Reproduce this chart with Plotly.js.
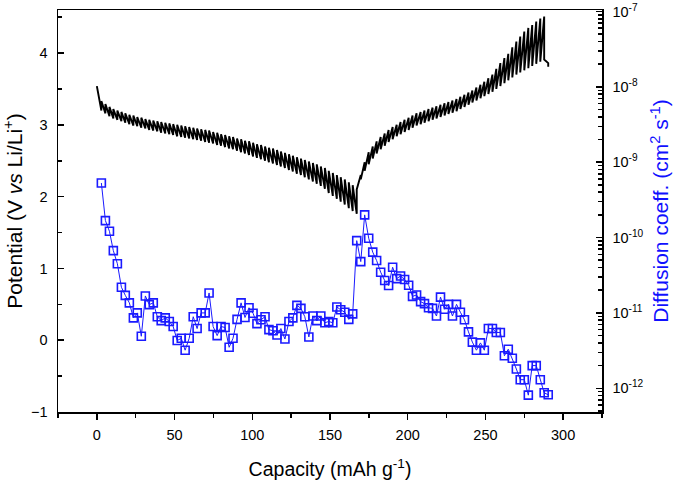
<!DOCTYPE html>
<html>
<head>
<meta charset="utf-8">
<script src="https://cdn.plot.ly/plotly-3.0.1.min.js"></script>
<style>html,body{margin:0;padding:0;background:#fff;}#chart{width:675px;height:480px;}</style>
</head>
<body>
<div id="chart"></div>
<script>
// ---- GITT potential curve: pulse boundaries (capacity), voltage at end of each pulse, relaxed voltage ----
const gittCap = [0,
  2.9, 5.5, 8.1, 10.6, 13.2, 15.8, 18.3, 20.9, 23.5, 26.0,
  28.6, 31.2, 33.7, 36.3, 38.9, 41.4, 44.0, 46.6, 49.1, 51.7,
  54.3, 56.8, 59.4, 62.0, 64.5, 67.1, 69.7, 72.2, 74.8, 77.4,
  79.9, 82.5, 85.1, 87.6, 90.2, 92.8, 95.3, 97.9, 100.5, 103.0,
  105.6, 108.2, 110.7, 113.3, 115.9, 118.4, 121.0, 123.6, 126.1, 128.7,
  131.3, 133.8, 136.4, 139.0, 141.5, 144.1, 146.7, 149.2, 151.8, 154.4,
  156.9, 159.5, 162.1, 164.6, 167.2,
  169.8, 172.3, 174.9, 177.5, 180.0, 182.6, 185.2, 187.7, 190.3, 192.9,
  195.4, 198.0, 200.6, 203.1, 205.7, 208.3, 210.8, 213.4, 216.0, 218.5,
  221.1, 223.7, 226.2, 228.8, 231.4, 233.9, 236.5, 239.1, 241.6, 244.2,
  246.8, 249.3, 251.9, 254.5, 257.0, 259.6, 262.2, 264.7, 267.3, 269.9,
  272.4, 275.0, 277.6, 280.1, 282.7, 285.3, 287.8, 290.4];
const gittPulseV = [3.54,
  3.20, 3.16, 3.12, 3.09, 3.07, 3.05, 3.03, 3.01, 2.99, 2.98,
  2.96, 2.95, 2.93, 2.92, 2.91, 2.89, 2.88, 2.87, 2.86, 2.84,
  2.83, 2.82, 2.81, 2.80, 2.79, 2.78, 2.76, 2.75, 2.74, 2.72,
  2.71, 2.69, 2.67, 2.66, 2.64, 2.62, 2.60, 2.58, 2.56, 2.54,
  2.52, 2.50, 2.48, 2.46, 2.44, 2.42, 2.40, 2.37, 2.35, 2.32,
  2.30, 2.27, 2.24, 2.21, 2.18, 2.15, 2.11, 2.05, 2.01, 1.97,
  1.93, 1.89, 1.84, 1.80, 1.76,
  2.30, 2.48, 2.62, 2.70, 2.77, 2.83, 2.88, 2.93, 2.97, 3.00,
  3.04, 3.07, 3.10, 3.13, 3.16, 3.18, 3.20, 3.22, 3.24, 3.26,
  3.28, 3.30, 3.32, 3.34, 3.36, 3.39, 3.42, 3.45, 3.48, 3.52,
  3.56, 3.60, 3.65, 3.70, 3.78, 3.86, 3.93, 3.99, 4.08, 4.16,
  4.23, 4.30, 4.35, 4.39, 4.44, 4.48, 4.51, 3.86];
const gittRestV = [3.54,
  3.33, 3.29, 3.25, 3.22, 3.20, 3.18, 3.16, 3.14, 3.13, 3.11,
  3.10, 3.08, 3.07, 3.06, 3.05, 3.04, 3.03, 3.02, 3.01, 3.00,
  2.99, 2.98, 2.97, 2.96, 2.95, 2.94, 2.93, 2.92, 2.90, 2.89,
  2.87, 2.86, 2.84, 2.83, 2.81, 2.80, 2.78, 2.77, 2.75, 2.73,
  2.72, 2.70, 2.68, 2.67, 2.65, 2.63, 2.61, 2.59, 2.57, 2.55,
  2.53, 2.51, 2.49, 2.47, 2.45, 2.42, 2.40, 2.36, 2.33, 2.30,
  2.27, 2.24, 2.20, 2.16, 2.10,
  2.24, 2.36, 2.45, 2.53, 2.60, 2.66, 2.71, 2.76, 2.80, 2.84,
  2.87, 2.90, 2.93, 2.96, 2.99, 3.01, 3.03, 3.05, 3.07, 3.09,
  3.11, 3.13, 3.15, 3.17, 3.19, 3.22, 3.25, 3.28, 3.31, 3.34,
  3.37, 3.40, 3.43, 3.46, 3.50, 3.54, 3.58, 3.62, 3.66, 3.70,
  3.73, 3.76, 3.79, 3.82, 3.85, 3.88, 3.91, 3.81];

// ---- Diffusion coefficient (cm^2 s^-1), one value per pulse ----
const diffCap = gittCap.slice(1);
const diffCoeff = [
  5.3e-10, 1.68e-10, 1.21e-10, 6.7e-11, 4.5e-11, 2.19e-11, 1.71e-11, 1.36e-11, 8.6e-12, 1.0e-11,
  4.9e-12, 1.68e-11, 1.29e-11, 1.36e-11, 8.9e-12, 7.9e-12, 8.6e-12, 7.7e-12, 6.6e-12, 4.3e-12,
  4.6e-12, 3.2e-12, 4.6e-12, 8.9e-12, 6.2e-12, 1.0e-11, 1.0e-11, 1.84e-11, 6.6e-12, 5.0e-12,
  6.6e-12, 6.4e-12, 3.5e-12, 4.6e-12, 8.2e-12, 1.36e-11, 8.7e-12, 1.17e-11, 9.9e-12, 7.2e-12,
  8.1e-12, 8.9e-12, 6.0e-12, 5.8e-12, 5.1e-12, 6.2e-12, 4.5e-12, 7.7e-12, 8.6e-12, 1.26e-11,
  1.15e-11, 8.9e-12, 4.8e-12, 9.1e-12, 7.9e-12, 9.1e-12, 7.4e-12, 7.7e-12, 7.4e-12, 1.20e-11,
  1.10e-11, 1.02e-11, 8.2e-12, 9.7e-12, 9.1e-11,
  4.8e-11, 2.0e-10, 9.8e-11, 6.4e-11, 4.95e-11, 3.47e-11, 2.69e-11, 2.31e-11, 4.04e-11, 2.85e-11,
  3.09e-11, 2.77e-11, 2.33e-11, 1.66e-11, 1.73e-11, 1.41e-11, 1.33e-11, 1.17e-11, 1.15e-11, 9.1e-12,
  1.62e-11, 1.12e-11, 1.30e-11, 9.1e-12, 1.30e-11, 1.02e-11, 8.1e-12, 5.6e-12, 4.1e-12, 3.2e-12,
  4.0e-12, 3.2e-12, 6.2e-12, 6.2e-12, 5.5e-12, 5.5e-12, 2.7e-12, 3.3e-12, 2.5e-12, 1.8e-12,
  1.3e-12, 1.3e-12, 8.1e-13, 2.0e-12, 2.0e-12, 1.3e-12, 8.7e-13, 8.2e-13];

// ---- axis ticks ----
const xTicks = [0, 50, 100, 150, 200, 250, 300];
const yTicks = [-1, 0, 1, 2, 3, 4];
const dTicks = [1e-12, 1e-11, 1e-10, 1e-9, 1e-8, 1e-7];
const dTickText = ['10<sup>-12</sup>', '10<sup>-11</sup>', '10<sup>-10</sup>', '10<sup>-9</sup>', '10<sup>-8</sup>', '10<sup>-7</sup>'];

// build GITT staircase: pulse end then relaxation at each boundary
const gx = [], gy = [];
for (let i = 0; i < gittCap.length; i++) {
  if (i > 0) { gx.push(gittCap[i]); gy.push(gittPulseV[i]); }
  gx.push(gittCap[i]); gy.push(gittRestV[i]);
}

const FONT = 'Arial, "Liberation Sans", Helvetica, sans-serif';
const traces = [
  {x: gx, y: gy, type: 'scatter', mode: 'lines', line: {color: '#000000', width: 1.9}, hoverinfo: 'skip'},
  {x: diffCap, y: diffCoeff, yaxis: 'y2', type: 'scatter', mode: 'lines+markers',
   line: {color: '#1a1aff', width: 1},
   marker: {symbol: 'square-open', size: 8, color: '#1a1aff', line: {color: '#1a1aff', width: 1.6}}}
];

const axisCommon = {showgrid: false, zeroline: false, showline: true, linecolor: '#000', linewidth: 1.5,
  tickcolor: '#000', tickwidth: 1.5, tickfont: {family: FONT, size: 14.5, color: '#000'}};

const layout = {
  width: 675, height: 480,
  margin: {l: 58, r: 73, t: 10, b: 68},
  paper_bgcolor: '#fff', plot_bgcolor: '#fff',
  showlegend: false,
  font: {family: FONT, size: 14.5, color: '#000'},
  xaxis: Object.assign({}, axisCommon, {
    range: [-25, 325], tickmode: 'array', tickvals: xTicks, ticks: 'outside', ticklen: 6, mirror: true,
    ticklabelstandoff: 3,
    minor: {dtick: 25, ticks: 'outside', ticklen: 4, tickwidth: 1.5, tickcolor: '#000', showgrid: false},
    title: {text: 'Capacity (mAh g<sup>-1</sup>)', font: {family: FONT, size: 19.5, color: '#000'}, standoff: 24}
  }),
  yaxis: Object.assign({}, axisCommon, {
    range: [-1, 4.6], tickmode: 'array', tickvals: yTicks, ticks: 'inside', ticklen: 6, ticklabelstandoff: 6,
    minor: {dtick: 0.5, ticks: 'inside', ticklen: 4, tickwidth: 1.5, tickcolor: '#000', showgrid: false},
    title: {text: 'Potential (V <i>vs</i> Li/Li<sup>+</sup>)', font: {family: FONT, size: 21, color: '#000'}, standoff: 8}
  }),
  yaxis2: Object.assign({}, axisCommon, {
    type: 'log', overlaying: 'y', side: 'right', anchor: 'x',
    range: [-12.315, -6.98], tickmode: 'array', tickvals: dTicks, ticktext: dTickText,
    ticks: 'inside', ticklen: 6, ticklabelstandoff: 6,
    minor: {dtick: 'D1', ticks: 'inside', ticklen: 4, tickwidth: 1.5, tickcolor: '#000', showgrid: false},
    title: {text: 'Diffusion coeff. (cm<sup>2</sup> s<sup>-1</sup>)', font: {family: FONT, size: 21, color: '#1010ff'}, standoff: 11}
  })
};

Plotly.newPlot('chart', traces, layout, {displayModeBar: false, staticPlot: true});
</script>
</body>
</html>
